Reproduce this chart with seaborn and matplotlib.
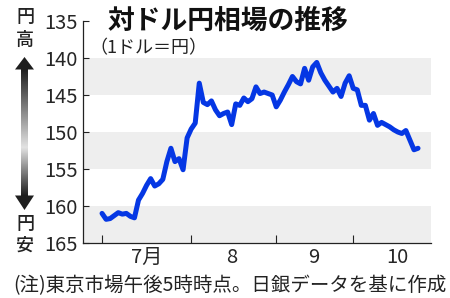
import numpy as np
import pandas as pd
import matplotlib
matplotlib.use("Agg")
import matplotlib.pyplot as plt
from matplotlib.patches import Polygon
import seaborn as sns

# ---- data (Tokyo 17:00, yen per dollar, business-day order) ----
yen = [161.0, 161.8, 161.7, 161.3, 160.9, 161.1, 161.0, 161.4, 161.6, 159.2,
       158.3, 157.2, 156.3, 157.3, 157.0, 156.4, 154.0, 152.2, 154.0, 153.6,
       155.1, 150.8, 149.6, 148.8, 143.4, 146.0, 146.3, 145.8, 147.0, 147.8,
       147.5, 147.3, 149.0, 146.2, 146.4, 145.4, 145.9, 145.5, 143.9, 144.8,
       144.6, 144.8, 145.0, 146.6, 145.7, 144.6, 143.6, 142.5, 143.2, 143.5,
       141.4, 143.0, 141.2, 140.6, 142.0, 143.0, 143.8, 144.6, 144.1, 145.2,
       143.4, 142.4, 144.1, 144.3, 146.4, 146.4, 148.4, 147.5, 149.1, 148.7,
       149.0, 149.3, 149.7, 150.0, 150.2, 149.8, 151.1, 152.4, 152.2]
month_labels = ["7月", "8", "9", "10"]
month_start_idx = [0, 22, 43, 62]
month_label_idx = [10.9, 32, 52.3, 72.8]
y_ticks = [135, 140, 145, 150, 155, 160, 165]
band_ranges = [(140, 145), (150, 155), (160, 165)]

title = "対ドル円相場の推移"
subtitle = "（1ドル＝円）"
note = "(注)東京市場午後5時時点。日銀データを基に作成"

df = pd.DataFrame({"day": np.arange(len(yen)), "yen": yen})

sns.set_style("white")
plt.rcParams["font.family"] = ["Noto Sans CJK JP", "DejaVu Sans"]

W, H = 450, 298
fig = plt.figure(figsize=(W / 100, H / 100), dpi=100)
ax = fig.add_axes([83 / W, 1 - 243 / H, (431 - 83) / W, (243 - 21) / H])

for lo, hi in band_ranges:
    ax.axhspan(lo, hi, color="#eeeeee", lw=0, zorder=0)

sns.lineplot(data=df, x="day", y="yen", ax=ax, color="#0537e4", lw=3.6,
             solid_capstyle="round", solid_joinstyle="round", zorder=3)

ax.set_ylim(165, 135)
ax.set_xlim(-4.7, 81.2)
ax.set_yticks(y_ticks)
ax.set_yticklabels([str(v) for v in y_ticks])
ax.tick_params(axis="y", direction="in", length=4, width=0.8, color="#222222",
               labelsize=14.5, pad=4, left=True)
ax.set_xticks(month_start_idx)
ax.set_xticklabels([])
ax.set_xticks(month_label_idx, minor=True)
ax.set_xticklabels(month_labels, minor=True)
ax.tick_params(axis="x", which="major", direction="in", length=6, width=0.8,
               color="#222222", bottom=True)
ax.tick_params(axis="x", which="minor", length=0, labelsize=14.5, pad=3)
ax.set_xlabel("")
ax.set_ylabel("")
for s in ["top", "right"]:
    ax.spines[s].set_visible(False)
for s in ["left", "bottom"]:
    ax.spines[s].set_color("#222222")
    ax.spines[s].set_linewidth(0.9)
ax.grid(False)

# ---- overlay in pixel coordinates ----
ov = fig.add_axes([0, 0, 1, 1], facecolor="none")
n1, n2 = 80, 50
grad = np.concatenate([np.linspace(0.12, 0.88, n1), np.linspace(0.88, 0.12, n2)])
ov.imshow(grad[:, None], cmap="gray", vmin=0, vmax=1,
          extent=[21, 28, 196, 69], aspect="auto", interpolation="bilinear")
ov.add_patch(Polygon([(15, 69.5), (34, 69.5), (24.5, 57)], closed=True,
                     color="#1e1e1e", lw=0))
ov.add_patch(Polygon([(15, 195.5), (34, 195.5), (24.5, 210)], closed=True,
                     color="#1e1e1e", lw=0))
ov.set_xlim(0, W)
ov.set_ylim(H, 0)
ov.axis("off")

for yy, ch in [(17, "円"), (40, "高"), (224, "円"), (246, "安")]:
    ov.text(25, yy, ch, fontsize=13, fontweight="medium", ha="center",
            va="center", color="#222222")

ov.text(107, 21, title, fontsize=19.3, fontweight="bold", ha="left",
        va="center", color="#111111")
ov.text(89, 48, subtitle, fontsize=13, ha="left", va="center", color="#222222")
ov.text(230, 286, note, fontsize=14, ha="center", va="center",
        color="#222222")

fig.savefig("out.png", dpi=100)
